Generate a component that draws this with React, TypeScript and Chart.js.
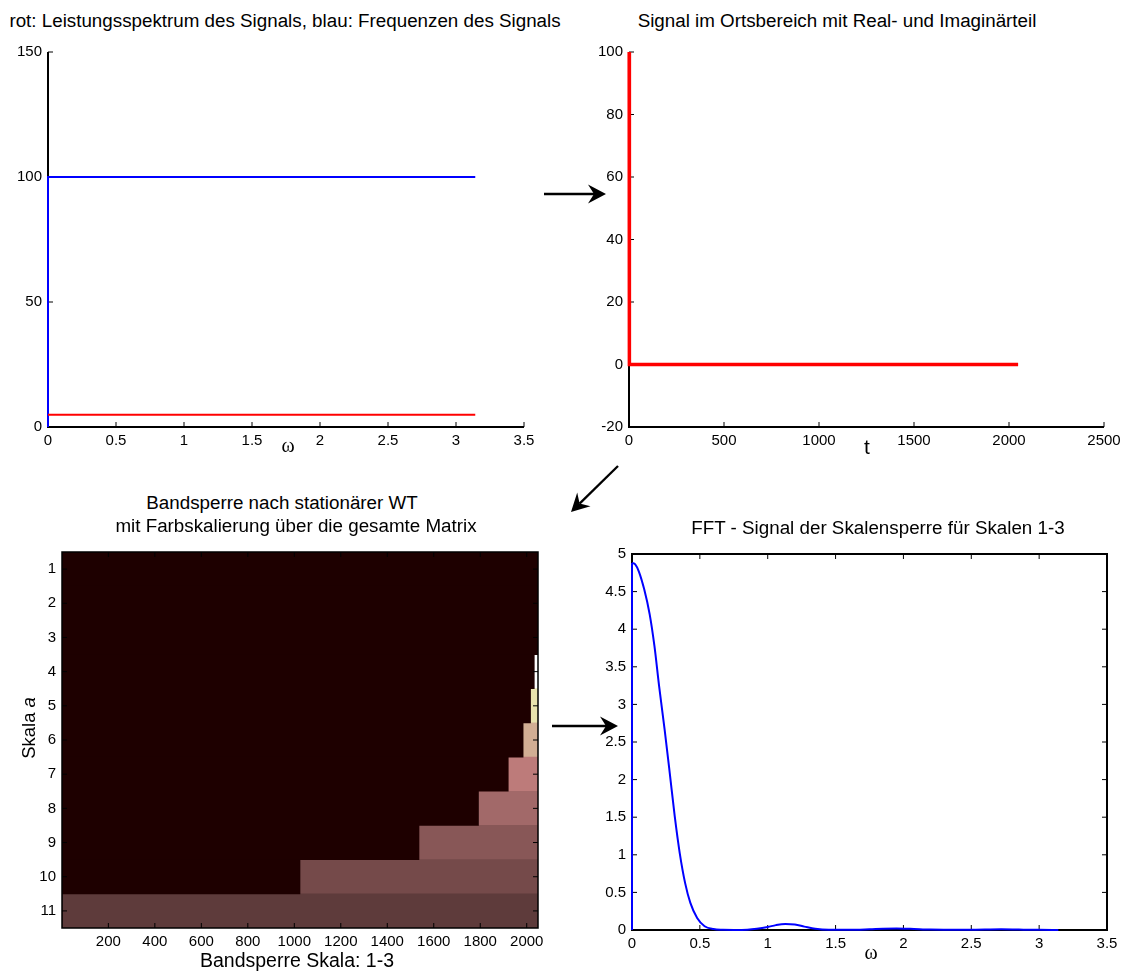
import React, { useEffect, useRef } from 'react';
import { Chart, registerables } from 'chart.js';

Chart.register(...registerables);

const FONT = '"Liberation Sans", Arial, Helvetica, sans-serif';
const SERIF = '"Liberation Serif", "Times New Roman", serif';

// ---------- Chart 1: spectrum ----------
const freqOmega = [0, 0, 3.1416];
const freqValues = [0, 100, 100];
const powerOmega = [0, 3.1416];
const powerValues = [4.88, 4.88];
const omegaTicks = [0, 0.5, 1, 1.5, 2, 2.5, 3, 3.5];
const spectrumYTicks = [0, 50, 100, 150];

// ---------- Chart 2: signal in space domain ----------
const signalT = [1, 2, 2048];
const signalRe = [100, 0, 0];
const signalXTicks = [0, 500, 1000, 1500, 2000, 2500];
const signalYTicks = [-20, 0, 20, 40, 60, 80, 100];

// ---------- Chart 3: band stop after stationary WT ----------
const scaleLabels = ['1', '2', '3', '4', '5', '6', '7', '8', '9', '10', '11'];
// first non-zero sample per scale (0 = whole row zero)
const stopStartSample = [0, 0, 0, 2033, 2017, 1985, 1921, 1793, 1537, 1025, 1];
const stopColors = ['#1e0000', '#1e0000', '#1e0000', '#ffffff', '#e9e3ae', '#d2ae94', '#bd7b7a', '#a26969', '#885757', '#754a4a', '#5e3b3b'];
const zeroColor = '#1e0000';
const sampleCount = 2048;
const wtXTicks = [200, 400, 600, 800, 1000, 1200, 1400, 1600, 1800, 2000];

// ---------- Chart 4: FFT of band-stopped signal ----------
const fftOmega = [0, 0.025, 0.05, 0.09, 0.13, 0.165, 0.2, 0.24, 0.278, 0.315, 0.352, 0.392, 0.43, 0.48, 0.535, 0.6, 0.67, 0.75, 0.85, 0.92, 1.0, 1.06, 1.13, 1.2, 1.27, 1.35, 1.45, 1.6, 1.75, 1.85, 1.95, 2.05, 2.2, 2.4, 2.6, 2.72, 2.85, 3.0, 3.1416];
const fftMag = [4.88, 4.86, 4.77, 4.53, 4.2, 3.78, 3.24, 2.67, 2.09, 1.51, 1.02, 0.62, 0.36, 0.16, 0.05, 0.012, 0.003, 0.001, 0.004, 0.016, 0.04, 0.065, 0.08, 0.072, 0.045, 0.016, 0.003, 0.003, 0.01, 0.017, 0.02, 0.016, 0.006, 0.002, 0.007, 0.01, 0.006, 0.002, 0.001];
const fftStemOmega = [0, 0];
const fftStemMag = [0, 4.88];
const fftYTicks = [0, 0.5, 1, 1.5, 2, 2.5, 3, 3.5, 4, 4.5, 5];

// ---------- helpers ----------
const pts = (xs: number[], ys: number[]) => xs.map((x, i) => ({ x, y: ys[i] }));

const tickFont = { family: FONT, size: 15 };

function linScale(axis: 'x' | 'y', min: number, max: number, ticks: number[], fit: number) {
  return {
    type: 'linear',
    min,
    max,
    grid: { display: false, drawTicks: false },
    border: { display: false },
    ticks: {
      font: tickFont,
      color: '#000',
      padding: axis === 'x' ? 5 : 6,
      autoSkip: false,
      maxRotation: 0,
      callback: (v: number) => String(v),
    },
    afterBuildTicks: (s: any) => {
      s.ticks = ticks.map((v) => ({ value: v }));
    },
    afterFit: (s: any) => {
      if (axis === 'x') s.height = fit;
      else s.width = fit;
    },
  };
}

function drawAxes(chart: any, opts: any) {
  const { ctx, chartArea } = chart;
  const { left, right, top, bottom } = chartArea;
  const xs = chart.scales.x;
  const ys = chart.scales.y;
  const len = opts.tickLen ?? 5;
  ctx.save();
  ctx.strokeStyle = '#000';
  ctx.lineWidth = opts.tickWidth ?? 1;
  ctx.beginPath();
  xs.ticks.forEach((_: any, i: number) => {
    const p = xs.getPixelForTick(i);
    ctx.moveTo(p, bottom);
    ctx.lineTo(p, bottom - len);
    if (opts.box) {
      ctx.moveTo(p, top);
      ctx.lineTo(p, top + len);
    }
  });
  ys.ticks.forEach((_: any, i: number) => {
    const p = ys.getPixelForTick(i);
    ctx.moveTo(left, p);
    ctx.lineTo(left + len, p);
    if (opts.box) {
      ctx.moveTo(right, p);
      ctx.lineTo(right - len, p);
    }
  });
  ctx.stroke();
  ctx.lineWidth = opts.lineWidth ?? 2;
  ctx.beginPath();
  if (opts.box) {
    ctx.rect(left, top, right - left, bottom - top);
  } else {
    ctx.moveTo(left, top);
    ctx.lineTo(left, bottom);
    ctx.lineTo(right, bottom);
  }
  ctx.stroke();
  ctx.restore();
}

const matlabAxes = {
  id: 'matlabAxes',
  beforeDatasetsDraw(chart: any, _a: any, opts: any) {
    if (!opts.above) drawAxes(chart, opts);
  },
  afterDatasetsDraw(chart: any, _a: any, opts: any) {
    if (opts.above) drawAxes(chart, opts);
  },
};

const PAD = { left: 0, top: 20, right: 30, bottom: 0 };

function basePlugins(axesOpts: any) {
  return {
    legend: { display: false },
    tooltip: { enabled: false },
    title: { display: false },
    matlabAxes: axesOpts,
  };
}

function lineDs(xs: number[], ys: number[], color: string, width: number, extra: any = {}) {
  return {
    data: pts(xs, ys),
    borderColor: color,
    backgroundColor: color,
    borderWidth: width,
    pointRadius: 0,
    showLine: true,
    fill: false,
    clip: false,
    tension: 0,
    ...extra,
  };
}

// ---------- chart configs ----------
const spectrumConfig = () => ({
  type: 'scatter',
  data: {
    datasets: [
      lineDs(powerOmega, powerValues, '#ff0000', 2),
      lineDs(freqOmega, freqValues, '#0000ff', 2),
    ],
  },
  options: {
    animation: false,
    responsive: false,
    layout: { padding: PAD },
    scales: {
      x: linScale('x', 0, 3.5, omegaTicks, 35),
      y: linScale('y', 0, 150, spectrumYTicks, 45),
    },
    plugins: basePlugins({ box: false, above: false, lineWidth: 2, tickLen: 5 }),
  },
  plugins: [matlabAxes],
});

const signalConfig = () => ({
  type: 'scatter',
  data: {
    datasets: [lineDs(signalT, signalRe, '#ff0000', 3.5, { borderJoinStyle: 'miter' })],
  },
  options: {
    animation: false,
    responsive: false,
    layout: { padding: PAD },
    scales: {
      x: linScale('x', 0, 2500, signalXTicks, 35),
      y: linScale('y', -20, 100, signalYTicks, 45),
    },
    plugins: basePlugins({ box: false, above: false, lineWidth: 2, tickLen: 5 }),
  },
  plugins: [matlabAxes],
});

const wtConfig = () => {
  const zeroRanges = stopStartSample.map((s) => [0.5, s > 0 ? s - 0.5 : sampleCount + 0.5]);
  const stopRanges = stopStartSample.map((s) => (s > 0 ? [s - 0.5, sampleCount + 0.5] : null));
  const barCommon = {
    barPercentage: 1,
    categoryPercentage: 1,
    grouped: false,
    borderWidth: 0,
  };
  return {
    type: 'bar',
    data: {
      labels: scaleLabels,
      datasets: [
        { data: zeroRanges, backgroundColor: zeroColor, ...barCommon },
        { data: stopRanges, backgroundColor: stopColors, ...barCommon },
      ],
    },
    options: {
      animation: false,
      responsive: false,
      indexAxis: 'y',
      layout: { padding: PAD },
      scales: {
        x: linScale('x', 0.5, sampleCount + 0.5, wtXTicks, 35),
        y: {
          type: 'category',
          grid: { display: false, drawTicks: false },
          border: { display: false },
          ticks: { font: tickFont, color: '#000', padding: 6, autoSkip: false },
          afterFit: (s: any) => {
            s.width = 45;
          },
        },
      },
      plugins: basePlugins({ box: true, above: true, lineWidth: 1.5, tickLen: 5 }),
    },
    plugins: [matlabAxes],
  };
};

const fftConfig = () => ({
  type: 'scatter',
  data: {
    datasets: [
      lineDs(fftStemOmega, fftStemMag, '#0000ff', 2),
      lineDs(fftOmega, fftMag, '#0000ff', 2, { cubicInterpolationMode: 'monotone' }),
    ],
  },
  options: {
    animation: false,
    responsive: false,
    layout: { padding: PAD },
    scales: {
      x: linScale('x', 0, 3.5, omegaTicks, 35),
      y: linScale('y', 0, 5, fftYTicks, 45),
    },
    plugins: basePlugins({ box: true, above: false, lineWidth: 2, tickLen: 5 }),
  },
  plugins: [matlabAxes],
});

// ---------- components ----------
function ChartBox(props: { config: () => any; left: number; top: number; width: number; height: number }) {
  const ref = useRef<HTMLCanvasElement>(null);
  useEffect(() => {
    const chart = new Chart(ref.current as HTMLCanvasElement, props.config());
    return () => chart.destroy();
  }, []);
  return (
    <canvas
      ref={ref}
      width={props.width}
      height={props.height}
      style={{ position: 'absolute', left: props.left, top: props.top, width: props.width, height: props.height }}
    />
  );
}

function Label(props: { x: number; y: number; size?: number; family?: string; children: any }) {
  return (
    <div
      style={{
        position: 'absolute',
        left: props.x,
        top: props.y,
        transform: 'translate(-50%, -50%)',
        whiteSpace: 'nowrap',
        fontFamily: props.family ?? FONT,
        fontSize: props.size ?? 18.8,
        lineHeight: 1,
        color: '#000',
        zIndex: 2,
      }}
    >
      {props.children}
    </div>
  );
}

function Arrow(props: { x1: number; y1: number; x2: number; y2: number }) {
  const { x1, y1, x2, y2 } = props;
  const dx = x2 - x1;
  const dy = y2 - y1;
  const d = Math.hypot(dx, dy);
  const ux = dx / d;
  const uy = dy / d;
  const nx = -uy;
  const ny = ux;
  const L = 18;
  const W = 9.5;
  const notch = 12;
  const bx = x2 - L * ux;
  const by = y2 - L * uy;
  const mx = x2 - notch * ux;
  const my = y2 - notch * uy;
  const poly = `${x2},${y2} ${bx + W * nx},${by + W * ny} ${mx},${my} ${bx - W * nx},${by - W * ny}`;
  return (
    <g>
      <line x1={x1} y1={y1} x2={mx} y2={my} stroke="#000" strokeWidth={2.3} />
      <polygon points={poly} fill="#000" />
    </g>
  );
}

export default function App() {
  return (
    <div style={{ position: 'absolute', left: 0, top: 0, width: 1121, height: 971, background: '#fff', overflow: 'hidden' }}>
      <ChartBox config={spectrumConfig} left={3} top={32} width={551} height={430} />
      <ChartBox config={signalConfig} left={584} top={32} width={550} height={430} />
      <ChartBox config={wtConfig} left={17} top={532} width={551} height={431} />
      <ChartBox config={fftConfig} left={587} top={534} width={550} height={431} />

      <Label x={285} y={21}>rot: Leistungsspektrum des Signals, blau: Frequenzen des Signals</Label>
      <Label x={837} y={21}>Signal im Ortsbereich mit Real- und Imaginärteil</Label>
      <Label x={282} y={503}>Bandsperre nach stationärer WT</Label>
      <Label x={296} y={526}>mit Farbskalierung über die gesamte Matrix</Label>
      <Label x={878} y={528}>FFT - Signal der Skalensperre für Skalen 1-3</Label>

      <Label x={288} y={445} size={20} family={SERIF}>ω</Label>
      <Label x={867} y={446} size={21}>t</Label>
      <Label x={871} y={952} size={20} family={SERIF}>ω</Label>
      <Label x={297} y={961} size={19.5}>Bandsperre Skala: 1-3</Label>
      <Label x={29} y={728} size={18.5}>
        <span style={{ display: 'inline-block', transform: 'rotate(-90deg)' }}>
          Skala <i>a</i>
        </span>
      </Label>

      <svg width={1121} height={971} style={{ position: 'absolute', left: 0, top: 0, zIndex: 3, pointerEvents: 'none' }}>
        <Arrow x1={544} y1={194} x2={606} y2={194} />
        <Arrow x1={618} y1={466} x2={571} y2={512} />
        <Arrow x1={552} y1={726} x2={618} y2={726} />
      </svg>
    </div>
  );
}
